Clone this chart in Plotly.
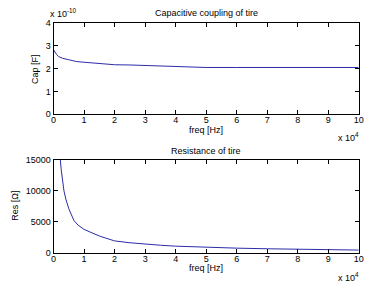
import plotly.graph_objects as go

# Data (freq in units of 1e4 Hz)
cap_freq = [0, 0.05, 0.1, 0.16, 0.2, 0.3, 0.5, 0.59, 0.75, 1.0, 1.24, 1.5, 1.88, 2.0, 2.5, 3.0, 3.5, 4.0, 4.5, 5.0, 6.0, 7.0, 8.0, 9.0, 10.0]
cap_vals = [2.82, 2.70, 2.62, 2.53, 2.50, 2.45, 2.39, 2.36, 2.31, 2.28, 2.25, 2.22, 2.18, 2.17, 2.16, 2.14, 2.12, 2.10, 2.06, 2.05, 2.05, 2.05, 2.05, 2.05, 2.05]

res_freq = [0.1, 0.2, 0.22, 0.25, 0.3, 0.34, 0.4, 0.5, 0.67, 0.8, 1.0, 1.2, 1.39, 1.55, 2.0, 2.5, 3.0, 3.5, 4.0, 4.5, 5.0, 6.0, 7.0, 8.0, 9.0, 10.0]
res_vals = [33000, 16500, 15000, 13400, 11400, 10000, 8700, 7100, 5200, 4500, 3800, 3300, 2960, 2650, 1950, 1650, 1400, 1250, 1100, 1000, 890, 780, 680, 580, 530, 470]

x_ticks = list(range(0, 11))
x_labels = [str(v) for v in x_ticks]
cap_ticks = [0, 1, 2, 3, 4]
cap_labels = [str(v) for v in cap_ticks]
res_ticks = [0, 5000, 10000, 15000]
res_labels = [str(v) for v in res_ticks]

W, H = 374, 295   # slightly wider than the window so the last tick label is not dropped
FONT = "Liberation Sans, Arial, Helvetica, sans-serif"
LINE = "#2c2ca8"

def px(x):
    return x / W

def py(y):
    return 1 - y / H

fig = go.Figure()
fig.add_trace(go.Scatter(x=cap_freq, y=cap_vals, mode="lines",
                         line=dict(color=LINE, width=1), xaxis="x", yaxis="y",
                         showlegend=False))
fig.add_trace(go.Scatter(x=res_freq, y=res_vals, mode="lines",
                         line=dict(color=LINE, width=1), xaxis="x2", yaxis="y2",
                         showlegend=False))

xdom = [px(51.7), px(363.5)]
axis_common = dict(showgrid=False, zeroline=False, showline=True, mirror="ticks",
                   linecolor="black", linewidth=1, ticks="inside", ticklen=4,
                   tickcolor="black", tickfont=dict(family=FONT, size=9, color="black"))

fig.update_layout(
    width=W, height=H,
    margin=dict(l=0, r=0, t=0, b=0),
    paper_bgcolor="white", plot_bgcolor="white",
    font=dict(family=FONT, size=9, color="black"),
    xaxis=dict(domain=xdom, range=[0, 10], tickvals=x_ticks, ticktext=x_labels,
               anchor="y", ticklabelstandoff=-3, **axis_common),
    yaxis=dict(domain=[py(113), py(18.7)], range=[0, 4], tickvals=cap_ticks,
               ticktext=cap_labels, anchor="x", **axis_common),
    xaxis2=dict(domain=xdom, range=[0, 10], tickvals=x_ticks, ticktext=x_labels,
                anchor="y2", ticklabelstandoff=-3, **axis_common),
    yaxis2=dict(domain=[py(256.7), py(160.3)], range=[0, 15000], tickvals=res_ticks,
                ticktext=res_labels, anchor="x2", **axis_common),
)

def ann(text, x, y, angle=0, size=9, xanchor="center"):
    fig.add_annotation(text=text, x=px(x), y=py(y), xref="paper", yref="paper",
                       showarrow=False, textangle=angle, xanchor=xanchor, yanchor="middle",
                       font=dict(family=FONT, size=size, color="black"))

ann("Capacitive coupling of tire", 207.6, 8)
ann("Resistance of tire", 207.6, 151)
ann("freq [Hz]", 207.6, 129)
ann("freq [Hz]", 207.6, 272)
ann("x 10<sup>4</sup>", 340, 137, xanchor="left")
ann("x 10<sup>4</sup>", 340, 282, xanchor="left")
ann("x 10<sup>-10</sup>", 46, 8, xanchor="left")
ann("Cap [F]", 32, 66, angle=-90)
ann("Res [Ω]", 12, 208, angle=-90)

fig.write_html("out.html", config={"displayModeBar": False},
               post_script="document.body.style.margin='0';document.body.style.overflow='hidden';")
